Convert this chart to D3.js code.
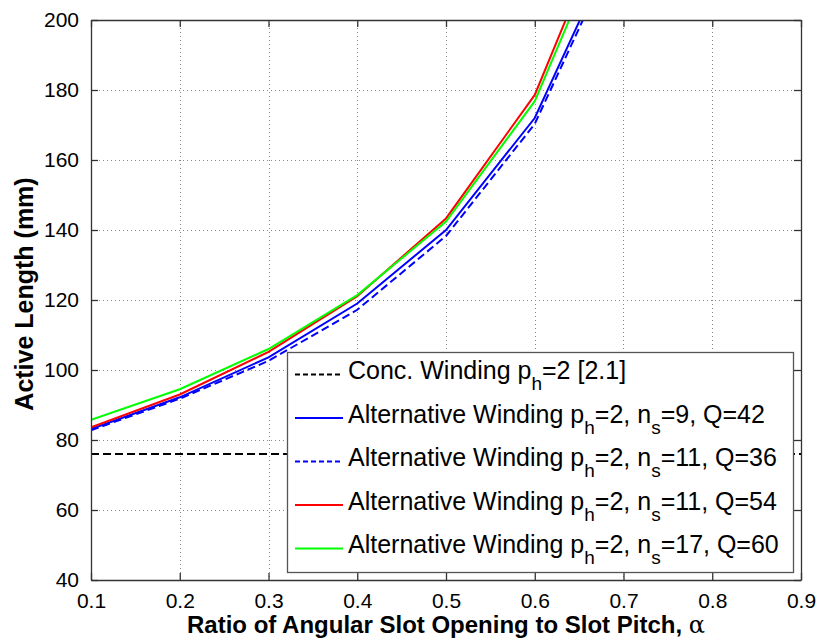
<!DOCTYPE html>
<html>
<head>
<meta charset="utf-8">
<script src="https://cdn.jsdelivr.net/npm/d3@7/dist/d3.min.js"></script>
<style>
  html, body { margin: 0; padding: 0; background: #fff; }
  svg { display: block; font-family: Arial, "Liberation Sans", Helvetica, sans-serif; }
</style>
</head>
<body>
<svg id="chart" width="824" height="644"></svg>
<script>
// Slot-opening ratio samples (alpha)
const alpha = [0.1, 0.2, 0.3, 0.4, 0.5, 0.6, 0.7];

// Active length (mm) for each winding
const concWinding   = [76, 76, 76, 76, 76, 76, 76, 76, 76];
const concAlpha     = [0.1, 0.2, 0.3, 0.4, 0.5, 0.6, 0.7, 0.8, 0.9];
const altNs9Q42     = [83.1, 92.2, 103.6, 119.0, 140.0, 172.0, 227.0];
const altNs11Q36    = [82.8, 91.8, 102.6, 117.2, 138.3, 170.3, 225.0];
const altNs11Q54    = [83.6, 93.0, 105.2, 121.1, 143.3, 178.6, 240.0];
const altNs17Q60    = [85.8, 94.5, 106.0, 121.4, 142.4, 176.8, 236.5];

const xTicks = [0.1, 0.2, 0.3, 0.4, 0.5, 0.6, 0.7, 0.8, 0.9];
const yTicks = [40, 60, 80, 100, 120, 140, 160, 180, 200];

const series = [
  { key: "conc",  xs: concAlpha, ys: concWinding, color: "#000000", dash: "8,4",
    label: [["Conc. Winding p", ""], ["h", "sub"], ["=2 [2.1]", ""]] },
  { key: "a9",    xs: alpha, ys: altNs9Q42,  color: "#0000ff", dash: null,
    label: [["Alternative Winding p", ""], ["h", "sub"], ["=2, n", ""], ["s", "sub"], ["=9, Q=42", ""]] },
  { key: "a11",   xs: alpha, ys: altNs11Q36, color: "#0000ff", dash: "8,4",
    label: [["Alternative Winding p", ""], ["h", "sub"], ["=2, n", ""], ["s", "sub"], ["=11, Q=36", ""]] },
  { key: "a11b",  xs: alpha, ys: altNs11Q54, color: "#ff0000", dash: null,
    label: [["Alternative Winding p", ""], ["h", "sub"], ["=2, n", ""], ["s", "sub"], ["=11, Q=54", ""]] },
  { key: "a17",   xs: alpha, ys: altNs17Q60, color: "#00ff00", dash: null,
    label: [["Alternative Winding p", ""], ["h", "sub"], ["=2, n", ""], ["s", "sub"], ["=17, Q=60", ""]] }
];

const svg = d3.select("#chart");
const plot = { left: 91, top: 20, right: 801, bottom: 580 };

const x = d3.scaleLinear().domain([0.1, 0.9]).range([plot.left, plot.right]);
const y = d3.scaleLinear().domain([40, 200]).range([plot.bottom, plot.top]);

svg.append("defs").append("clipPath").attr("id", "plotClip")
  .append("rect")
  .attr("x", plot.left).attr("y", plot.top)
  .attr("width", plot.right - plot.left).attr("height", plot.bottom - plot.top);

// Dotted grid
const grid = svg.append("g").attr("class", "grid")
  .attr("stroke", "#888").attr("stroke-width", 1).attr("stroke-dasharray", "1,3");
grid.selectAll("line.vx").data(xTicks.slice(1, -1)).join("line")
  .attr("x1", d => Math.round(x(d)) + 0.5).attr("x2", d => Math.round(x(d)) + 0.5)
  .attr("y1", plot.top).attr("y2", plot.bottom);
grid.selectAll("line.hy").data(yTicks.slice(1, -1)).join("line")
  .attr("y1", d => Math.round(y(d)) + 0.5).attr("y2", d => Math.round(y(d)) + 0.5)
  .attr("x1", plot.left).attr("x2", plot.right);

// Data lines
const lines = svg.append("g").attr("clip-path", "url(#plotClip)");
series.forEach(s => {
  const pts = s.xs.map((v, i) => [v, s.ys[i]]);
  lines.append("path")
    .datum(pts)
    .attr("fill", "none")
    .attr("stroke", s.color)
    .attr("stroke-width", 2)
    .attr("stroke-dasharray", s.dash)
    .attr("d", d3.line().x(d => x(d[0])).y(d => y(d[1])));
});

// Axes with inward ticks, mirrored on top and right
const axisColor = "#333";
const tickLen = 7;
const gBottom = svg.append("g").attr("transform", `translate(0,${plot.bottom})`)
  .call(d3.axisBottom(x).tickValues(xTicks).tickFormat(d3.format(".1f")).tickSizeInner(-tickLen).tickSizeOuter(0).tickPadding(10));
const gTop = svg.append("g").attr("transform", `translate(0,${plot.top})`)
  .call(d3.axisTop(x).tickValues(xTicks).tickFormat("").tickSizeInner(-tickLen).tickSizeOuter(0));
const gLeft = svg.append("g").attr("transform", `translate(${plot.left},0)`)
  .call(d3.axisLeft(y).tickValues(yTicks).tickFormat(d3.format("d")).tickSizeInner(-tickLen).tickSizeOuter(0).tickPadding(12));
const gRight = svg.append("g").attr("transform", `translate(${plot.right},0)`)
  .call(d3.axisRight(y).tickValues(yTicks).tickFormat("").tickSizeInner(-tickLen).tickSizeOuter(0));

[gBottom, gTop, gLeft, gRight].forEach(g => {
  g.select(".domain").attr("stroke", axisColor).attr("stroke-width", 1.3);
  g.selectAll(".tick line").attr("stroke", axisColor).attr("stroke-width", 1.3);
  g.selectAll(".tick text").attr("fill", "#000").style("font-size", "21px")
    .style("font-family", "Arial, 'Liberation Sans', sans-serif");
});
gBottom.selectAll(".tick text").attr("dy", "0.85em");

// Axis titles
const xTitle = svg.append("text")
  .attr("x", 446)
  .attr("y", 633)
  .attr("text-anchor", "middle")
  .style("font-size", "24px").style("font-weight", "bold").attr("fill", "#000");
xTitle.append("tspan").text("Ratio of Angular Slot Opening to Slot Pitch, ");
xTitle.append("tspan").style("font-weight", "normal").style("font-family", "'DejaVu Serif', 'Liberation Serif', serif").text("α");

svg.append("text")
  .attr("transform", `translate(33,294) rotate(-90)`)
  .attr("text-anchor", "middle")
  .style("font-size", "25px").style("font-weight", "bold").attr("fill", "#000")
  .text("Active Length (mm)");

// Legend
const legend = { x: 287, y: 352, w: 506, h: 220, rowY0: 374.5, rowStep: 43.5 };
const lg = svg.append("g");
lg.append("rect")
  .attr("x", legend.x + 0.5).attr("y", legend.y + 0.5)
  .attr("width", legend.w).attr("height", legend.h)
  .attr("fill", "#fff").attr("stroke", "#555").attr("stroke-width", 1.3);

series.forEach((s, i) => {
  const cy = legend.rowY0 + i * legend.rowStep;
  lg.append("line")
    .attr("x1", 295).attr("x2", 343).attr("y1", cy).attr("y2", cy)
    .attr("stroke", s.color).attr("stroke-width", 2)
    .attr("stroke-dasharray", s.dash ? "5,3" : null);
  const t = lg.append("text")
    .attr("x", 348).attr("y", cy + 4.5)
    .style("font-size", "25px").attr("fill", "#000");
  s.label.forEach(([str, kind], j) => {
    const sp = t.append("tspan").text(str);
    if (kind === "sub") sp.attr("dy", 11).style("font-size", "19px");
    else if (j > 0) sp.attr("dy", -11);
  });
});
</script>
</body>
</html>
